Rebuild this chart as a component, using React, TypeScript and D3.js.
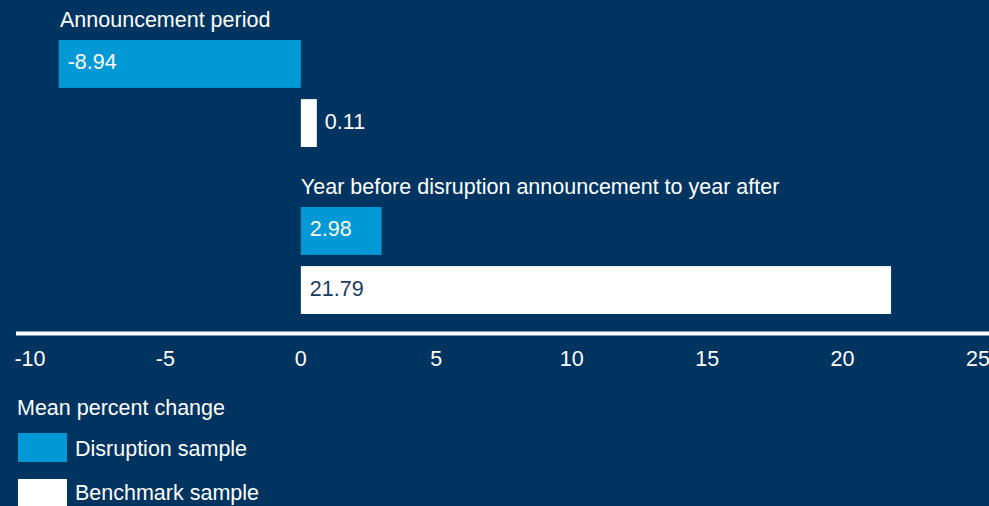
import React from "react";
import * as d3 from "d3";

const groups = ["Announcement period", "Year before disruption announcement to year after"];
const seriesNames = ["Disruption sample", "Benchmark sample"];
const disruptionValues = [-8.94, 2.98];
const benchmarkValues = [0.11, 21.79];
const tickValues = [-10, -5, 0, 5, 10, 15, 20, 25];
const legendTitle = "Mean percent change";

const W = 989;
const H = 506;
const BG = "#003460";
const BLUE = "#0099d5";
const WHITE = "#ffffff";
const DARK_TEXT = "#1d3a5f";
const FONT = "'Liberation Sans', Arial, Helvetica, sans-serif";
const FS = 21.5;

export default function App() {
  const x = d3.scaleLinear().domain([-10, 25]).range([30, 978]);
  const yGroup = d3.scaleBand<string>().domain(groups).range([40, 40 + 167 * 2]);
  const yInner = d3.scaleBand<string>().domain(seriesNames).range([0, 107]).paddingInner(0.19);
  const colors = [BLUE, WHITE];
  const values = [disruptionValues, benchmarkValues];
  const minW = 16;

  return (
    <svg width={W} height={H} style={{ position: "absolute", left: 0, top: 0, display: "block" }} fontFamily={FONT}>
      <rect x={0} y={0} width={W} height={H} fill={BG} />
      {groups.map((g, gi) => {
        const gy = yGroup(g)!;
        return (
          <g key={g}>
            <text x={gi === 0 ? 60 : x(0)} y={gy - 13} fill={WHITE} fontSize={FS}>
              {g}
            </text>
            {seriesNames.map((s, si) => {
              const v = values[si][gi];
              const y = gy + yInner(s)!;
              const bh = yInner.bandwidth();
              let x0 = Math.min(x(0), x(v));
              let w = Math.abs(x(v) - x(0));
              const tooSmall = w < minW;
              if (tooSmall) w = minW;
              const labelX = tooSmall ? x0 + w + 8 : x0 + 9;
              const labelFill = tooSmall ? WHITE : si === 0 ? WHITE : DARK_TEXT;
              return (
                <g key={s}>
                  <rect x={x0} y={y} width={w} height={bh} fill={colors[si]} />
                  <text x={labelX} y={y + bh / 2 + 5.5} fill={labelFill} fontSize={FS}>
                    {v.toFixed(2)}
                  </text>
                </g>
              );
            })}
          </g>
        );
      })}
      <line x1={16} x2={W} y1={333.5} y2={333.5} stroke={WHITE} strokeWidth={4} />
      {tickValues.map((t) => (
        <text key={t} x={x(t)} y={366} fill={WHITE} fontSize={FS} textAnchor="middle">
          {t}
        </text>
      ))}
      <text x={17} y={415} fill={WHITE} fontSize={FS}>
        {legendTitle}
      </text>
      {seriesNames.map((s, i) => (
        <g key={s}>
          <rect x={18} y={433 + i * 46} width={49} height={29} fill={colors[i]} />
          <text x={75} y={456 + i * 44} fill={WHITE} fontSize={FS}>
            {s}
          </text>
        </g>
      ))}
    </svg>
  );
}
